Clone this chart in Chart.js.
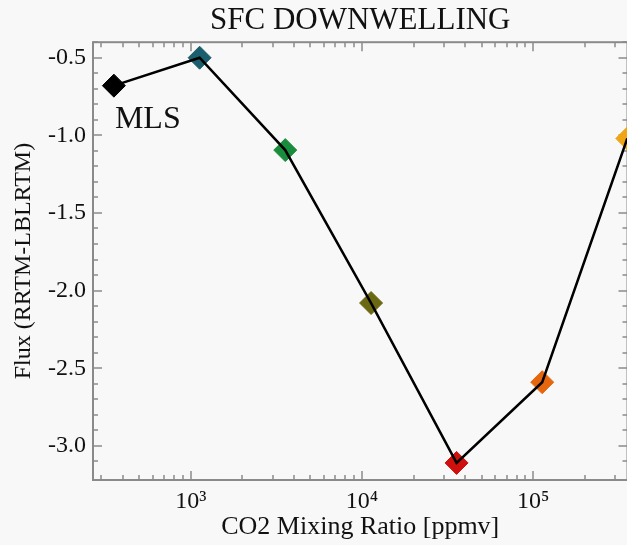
<!DOCTYPE html>
<html>
<head>
<meta charset="utf-8">
<script src="https://cdn.jsdelivr.net/npm/chart.js@4.4.0/dist/chart.umd.min.js"></script>
<style>
html, body { margin: 0; padding: 0; overflow: hidden; background: #f8f8f8; }
canvas { display: block; }
</style>
</head>
<body>
<canvas id="chartFlux" width="640" height="545"></canvas>
<script>
// --- DATA ---
const co2Ppmv = [355, 1125, 3560, 11300, 35700, 113000, 355000];
const fluxDiff = [-0.68, -0.50, -1.095, -2.08, -3.11, -2.59, -1.02];
const markerColors = ['#000000', '#1b5e6d', '#1a8c3d', '#6b6814', '#d0100c', '#e5660f', '#efa516'];
const xRange = [268, 356000];
const yRange = [-3.22, -0.4];
const yMinorStep = 0.1;
const yMajorStep = 0.5;
const pointLabel = 'MLS';

const FONT = "'Liberation Serif', 'DejaVu Serif', serif";
const AXIS_COLOR = '#8a8a8a';
const SUP = { '0': '⁰', '1': '¹', '2': '²', '3': '³', '4': '⁴', '5': '⁵', '6': '⁶', '7': '⁷', '8': '⁸', '9': '⁹' };

function isMultiple(v, step) {
    const r = v / step;
    return Math.abs(r - Math.round(r)) < 1e-6;
}
function isPow10(v) {
    const e = Math.log10(v);
    return Math.abs(e - Math.round(e)) < 1e-9;
}

const points = co2Ppmv.map((x, i) => ({ x: x, y: fluxDiff[i] }));

// IDL style frame: box with inward ticks on all four sides, plus the MLS label
const idlFrame = {
    id: 'idlFrame',
    beforeDatasetsDraw(chart) {
        const { ctx, chartArea: a, scales } = chart;
        ctx.save();
        ctx.strokeStyle = AXIS_COLOR;
        ctx.lineWidth = 2;
        ctx.strokeRect(a.left, a.top, a.right - a.left, a.bottom - a.top);
        ctx.lineWidth = 1.5;
        ctx.beginPath();
        scales.y.ticks.forEach(t => {
            const py = Math.round(scales.y.getPixelForValue(t.value));
            const len = isMultiple(t.value, yMajorStep) ? 9 : 5;
            ctx.moveTo(a.left, py); ctx.lineTo(a.left + len, py);
            ctx.moveTo(a.right, py); ctx.lineTo(a.right - len, py);
        });
        scales.x.ticks.forEach(t => {
            const px = Math.round(scales.x.getPixelForValue(t.value));
            const len = isPow10(t.value) ? 9 : 5;
            ctx.moveTo(px, a.bottom); ctx.lineTo(px, a.bottom - len);
            ctx.moveTo(px, a.top); ctx.lineTo(px, a.top + len);
        });
        ctx.stroke();
        ctx.restore();
    },
    afterDatasetsDraw(chart) {
        const { ctx, scales } = chart;
        const px = scales.x.getPixelForValue(co2Ppmv[0]);
        const py = scales.y.getPixelForValue(fluxDiff[0]);
        ctx.save();
        ctx.fillStyle = '#111';
        ctx.font = '32px ' + FONT;
        ctx.textAlign = 'left';
        ctx.textBaseline = 'alphabetic';
        ctx.fillText(pointLabel, px + 1, py + 42);
        ctx.restore();
    }
};

new Chart(document.getElementById('chartFlux').getContext('2d'), {
    type: 'scatter',
    data: {
        datasets: [
            {
                // line on top of the markers
                data: points,
                showLine: true,
                borderColor: '#000',
                borderWidth: 2.5,
                pointRadius: 0,
                order: 0
            },
            {
                data: points,
                showLine: false,
                pointStyle: 'rectRot',
                pointRadius: 11.5,
                pointBackgroundColor: markerColors,
                pointBorderColor: markerColors,
                pointBorderWidth: 1,
                order: 1
            }
        ]
    },
    options: {
        responsive: false,
        animation: false,
        devicePixelRatio: 1,
        layout: { padding: { left: 0, right: 10, top: 0, bottom: 0 } },
        plugins: {
            legend: { display: false },
            tooltip: { enabled: false },
            title: {
                display: true,
                text: 'SFC DOWNWELLING',
                fullSize: false,
                color: '#111',
                font: { family: FONT, size: 31, weight: 'normal', lineHeight: 1.2 },
                padding: { top: 2, bottom: 3 }
            }
        },
        scales: {
            x: {
                type: 'logarithmic',
                min: xRange[0],
                max: xRange[1],
                grid: { display: false, drawTicks: false },
                border: { display: false },
                afterBuildTicks: scale => {
                    scale.ticks = scale.ticks.filter(t => {
                        const m = t.value / Math.pow(10, Math.floor(Math.log10(t.value) + 1e-9));
                        return isMultiple(m, 1) && t.value > scale.min && t.value < scale.max;
                    });
                },
                afterFit: scale => { scale.height = 65; },
                ticks: {
                    autoSkip: false,
                    maxRotation: 0,
                    padding: 7,
                    color: '#111',
                    font: { family: FONT, size: 24 },
                    callback: value => {
                        if (!isPow10(value)) return '';
                        const e = String(Math.round(Math.log10(value)));
                        return '10' + e.split('').map(c => SUP[c]).join('');
                    }
                },
                title: {
                    display: true,
                    text: 'CO2 Mixing Ratio [ppmv]',
                    color: '#111',
                    font: { family: FONT, size: 26, lineHeight: 1.2 },
                    padding: { top: 0, bottom: 2 }
                }
            },
            y: {
                min: yRange[0],
                max: yRange[1],
                grid: { display: false, drawTicks: false },
                border: { display: false },
                afterBuildTicks: scale => {
                    scale.ticks = scale.ticks.filter(t => isMultiple(t.value, yMinorStep));
                },
                afterFit: scale => { scale.width = 93; },
                ticks: {
                    stepSize: yMinorStep,
                    autoSkip: false,
                    padding: 7,
                    color: '#111',
                    font: { family: FONT, size: 24 },
                    callback: value => isMultiple(value, yMajorStep) ? value.toFixed(1) : ''
                },
                title: {
                    display: true,
                    text: 'Flux (RRTM-LBLRTM)',
                    color: '#111',
                    font: { family: FONT, size: 24, lineHeight: 1.2 },
                    padding: { top: 9, bottom: 0 }
                }
            }
        }
    },
    plugins: [idlFrame]
});
</script>
</body>
</html>
